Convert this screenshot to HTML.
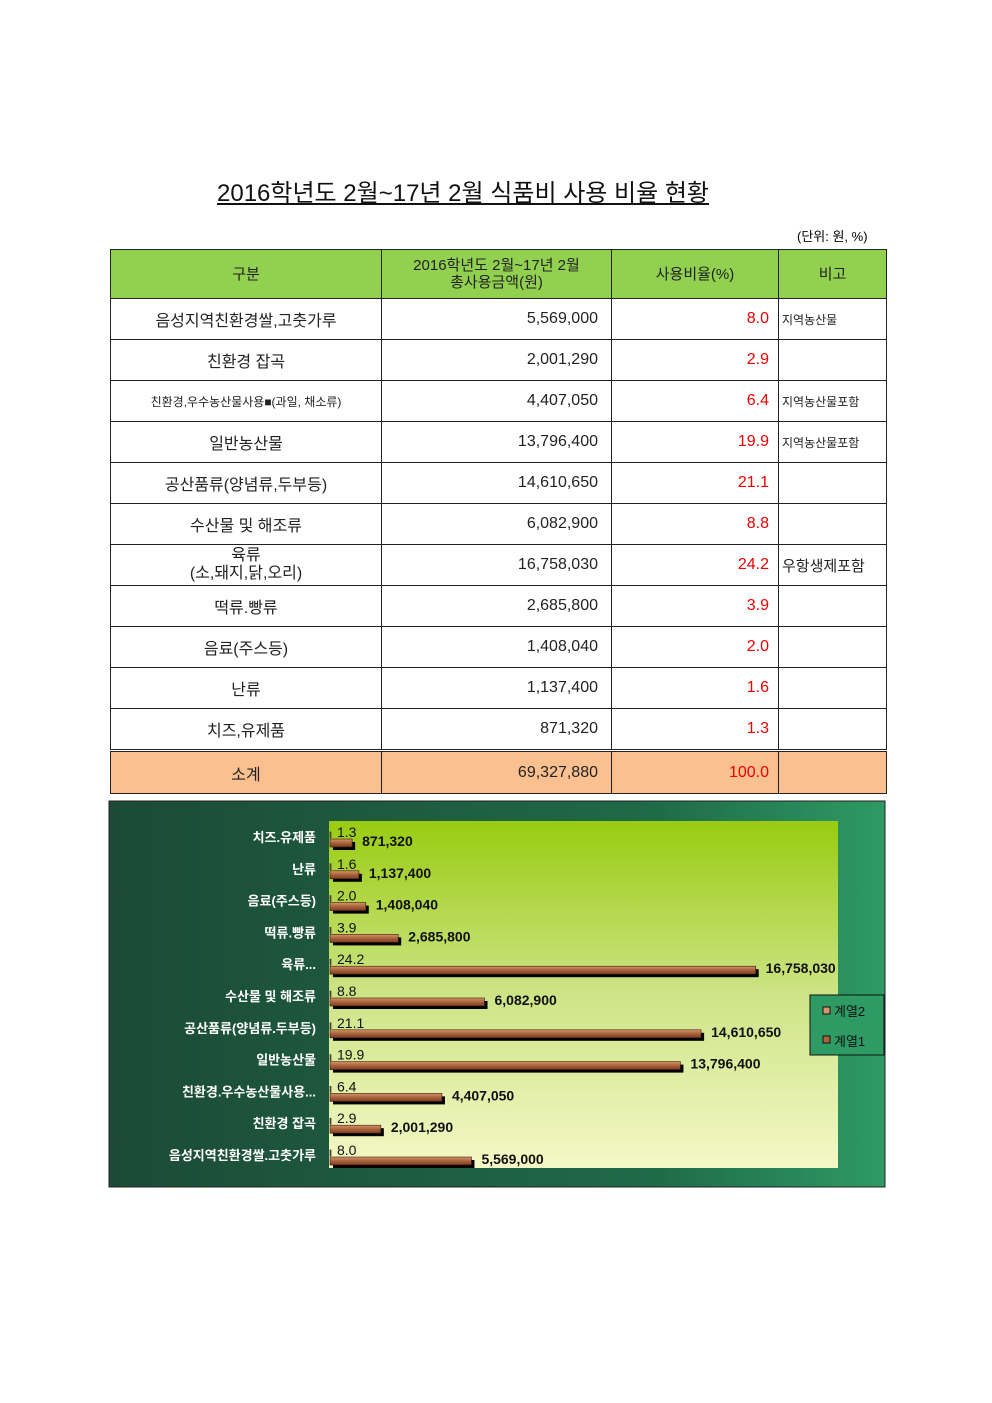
<!DOCTYPE html>
<html><head><meta charset="utf-8"><style>
body{margin:0;width:992px;height:1403px;background:#fff;position:relative;font-family:"Liberation Sans","Noto Sans CJK KR",sans-serif;overflow:hidden}
.t{position:absolute;white-space:nowrap}
table{position:absolute;left:110px;top:249px;border-collapse:collapse;table-layout:fixed}
td{border:1.5px solid #222;font-size:16px;color:#222;padding:0;height:40px}
td.c{text-align:center}
td.n{text-align:right;padding-right:13px}
td.r{text-align:right;padding-right:9px;color:#e00}
td.b{font-size:12px;padding-left:3px}
tr.h td{background:#92d050;text-align:center;height:48px;font-size:15px;line-height:17px}
tr.s td{background:#fac090;height:41px;border-top:3px double #222}
</style></head><body>
<div class="t" style="left:217px;top:173px;font-size:24px;text-decoration:underline;color:#111">2016학년도 2월~17년 2월 식품비 사용 비율 현황</div>
<div class="t" style="left:797px;top:226px;font-size:13px">(단위: 원, %)</div>
<table>
<colgroup><col style="width:271px"><col style="width:230px"><col style="width:167px"><col style="width:108px"></colgroup>
<tr class="h"><td>구분</td><td>2016학년도 2월~17년 2월<br>총사용금액(원)</td><td>사용비율(%)</td><td>비고</td></tr>
<tr><td class="c">음성지역친환경쌀,고춧가루</td><td class="n">5,569,000</td><td class="r">8.0</td><td class="b">지역농산물</td></tr>
<tr><td class="c">친환경 잡곡</td><td class="n">2,001,290</td><td class="r">2.9</td><td class="b"></td></tr>
<tr><td class="c" style="font-size:12px">친환경,우수농산물사용■(과일, 채소류)</td><td class="n">4,407,050</td><td class="r">6.4</td><td class="b">지역농산물포함</td></tr>
<tr><td class="c">일반농산물</td><td class="n">13,796,400</td><td class="r">19.9</td><td class="b">지역농산물포함</td></tr>
<tr><td class="c">공산품류(양념류,두부등)</td><td class="n">14,610,650</td><td class="r">21.1</td><td class="b"></td></tr>
<tr><td class="c">수산물 및 해조류</td><td class="n">6,082,900</td><td class="r">8.8</td><td class="b"></td></tr>
<tr><td class="c" style="line-height:18px">육류<br>(소,돼지,닭,오리)</td><td class="n">16,758,030</td><td class="r">24.2</td><td class="b" style="font-size:15px">우항생제포함</td></tr>
<tr><td class="c">떡류.빵류</td><td class="n">2,685,800</td><td class="r">3.9</td><td class="b"></td></tr>
<tr><td class="c">음료(주스등)</td><td class="n">1,408,040</td><td class="r">2.0</td><td class="b"></td></tr>
<tr><td class="c">난류</td><td class="n">1,137,400</td><td class="r">1.6</td><td class="b"></td></tr>
<tr><td class="c">치즈,유제품</td><td class="n">871,320</td><td class="r">1.3</td><td class="b"></td></tr>
<tr class="s"><td class="c">소계</td><td class="n">69,327,880</td><td class="r">100.0</td><td></td></tr>
</table>
<svg id="chart" style="position:absolute;left:0;top:0" width="992" height="1403">
<defs>
<linearGradient id="bg" x1="0" y1="0" x2="1" y2="0"><stop offset="0" stop-color="#1c4a36"/><stop offset="0.7" stop-color="#1f6a48"/><stop offset="1" stop-color="#2e9a64"/></linearGradient>
<linearGradient id="pl" x1="0" y1="0" x2="0" y2="1"><stop offset="0" stop-color="#99cc11"/><stop offset="0.5" stop-color="#cde486"/><stop offset="1" stop-color="#f4f8c6"/></linearGradient>
<linearGradient id="wd" x1="0" y1="0" x2="0" y2="1"><stop offset="0" stop-color="#d8946a"/><stop offset="0.5" stop-color="#a8623c"/><stop offset="1" stop-color="#7a4020"/></linearGradient>
</defs>
<rect x="109" y="801" width="776" height="386" fill="url(#bg)" stroke="#222"/>
<rect x="329" y="821" width="509" height="347" fill="url(#pl)"/>
<g id="bars"></g>
<rect x="810" y="995" width="74" height="60" fill="#2e9a64" stroke="#111"/>
<rect x="823" y="1007" width="7" height="7" fill="#d8946a" stroke="#111"/>
<text x="834" y="1016" font-size="13" fill="#111">계열2</text>
<rect x="823" y="1036" width="7" height="7" fill="#a8623c" stroke="#111"/>
<text x="834" y="1046" font-size="13" fill="#111">계열1</text>
</svg>
<script>
const categories=["치즈.유제품","난류","음료(주스등)","떡류.빵류","육류...","수산물 및 해조류","공산품류(양념류.두부등)","일반농산물","친환경.우수농산물사용...","친환경 잡곡","음성지역친환경쌀.고춧가루"];
const amounts=[871320,1137400,1408040,2685800,16758030,6082900,14610650,13796400,4407050,2001290,5569000];
const ratios=[1.3,1.6,2.0,3.9,24.2,8.8,21.1,19.9,6.4,2.9,8.0];
const xMax=20000000;
const x0=330,x1=838,yTop=841,step=31.8;
const xs=v=>x0+(x1-x0)*v/xMax;
const yc=i=>yTop+i*step;
const g=document.getElementById('bars');
const NS='http://www.w3.org/2000/svg';
function mk(t,a){const e=document.createElementNS(NS,t);for(const k in a)e.setAttribute(k,a[k]);g.appendChild(e);return e;}
categories.forEach((c,i)=>{
 const y=yc(i),w=xs(amounts[i])-x0,w1=xs(ratios[i])-x0;
 const lab=mk('text',{x:316,y:y+1,'font-size':13,'font-weight':'bold',fill:'#fff','text-anchor':'end'});lab.textContent=c;
 
 
 const sh=mk('rect',{x:x0+3,y:y+1,width:w,height:8,fill:'#000'});
 const b=mk('rect',{x:x0,y:y-2,width:w,height:8,fill:'url(#wd)',stroke:'#3a1a08','stroke-width':0.6});
 
 
 const b1=mk('rect',{x:x0,y:y-9,width:Math.max(w1,1),height:6,fill:'#a8623c',stroke:'#222','stroke-width':0.6});
 
 
 const rl=mk('text',{x:x0+7,y:y-4,'font-size':14,fill:'#111'});rl.textContent=ratios[i].toFixed(1);
 
 
 const al=mk('text',{x:x0+w+10,y:y+5,'font-size':14,'font-weight':'bold',fill:'#111'});al.textContent=amounts[i].toLocaleString('en-US');
 
 
});
</script>
</body></html>
